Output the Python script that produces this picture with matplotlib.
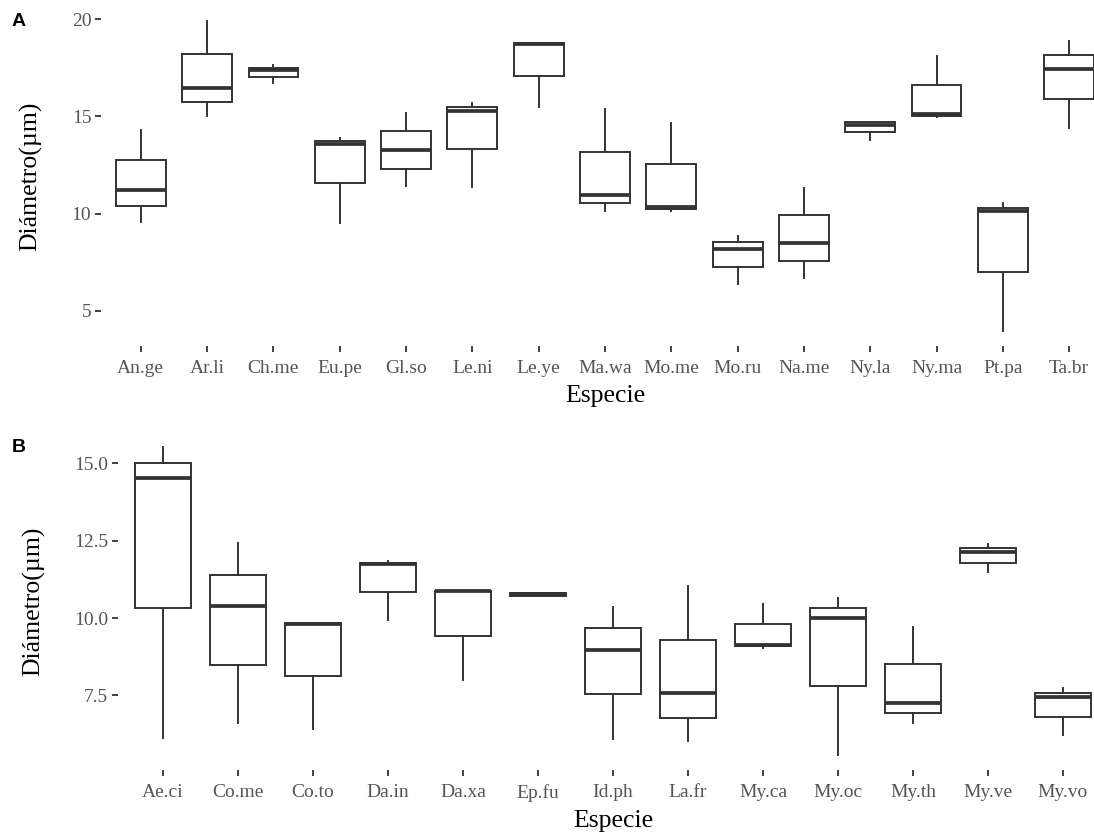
import matplotlib
matplotlib.use("Agg")
import matplotlib.pyplot as plt

plt.rcParams['font.family'] = ['Liberation Serif', 'DejaVu Serif']

# Panel A
species_a = ["An.ge", "Ar.li", "Ch.me", "Eu.pe", "Gl.so", "Le.ni", "Le.ye", "Ma.wa",
             "Mo.me", "Mo.ru", "Na.me", "Ny.la", "Ny.ma", "Pt.pa", "Ta.br"]
whislo_a = [9.57, 15.02, 16.74, 9.52, 11.41, 11.37, 15.50, 10.14, 10.14, 6.39, 6.68, 13.81, 14.98, 3.99, 14.38]
q1_a = [10.38, 15.72, 17.00, 11.58, 12.29, 13.32, 17.08, 10.55, 10.22, 7.25, 7.56, 14.21, 15.03, 6.99, 15.89]
med_a = [11.24, 16.44, 17.39, 13.60, 13.26, 15.29, 18.70, 10.98, 10.34, 8.20, 8.50, 14.55, 15.10, 10.14, 17.44]
q3_a = [12.78, 18.20, 17.50, 13.75, 14.24, 15.50, 18.76, 13.18, 12.53, 8.54, 9.91, 14.72, 16.62, 10.31, 18.16]
whishi_a = [14.30, 19.88, 17.65, 13.87, 15.19, 15.67, 18.76, 15.36, 14.64, 8.87, 11.32, 14.72, 18.11, 10.55, 18.88]
yticks_a = [5, 10, 15, 20]

# Panel B
species_b = ["Ae.ci", "Co.me", "Co.to", "Da.in", "Da.xa", "Ep.fu", "Id.ph", "La.fr",
             "My.ca", "My.oc", "My.th", "My.ve", "My.vo"]
whislo_b = [6.13, 6.62, 6.42, 9.95, 8.01, 10.70, 6.10, 6.02, 9.03, 5.59, 6.62, 11.50, 6.24]
q1_b = [10.32, 8.47, 8.12, 10.84, 9.43, 10.72, 7.55, 6.78, 9.09, 7.80, 6.94, 11.79, 6.81]
med_b = [14.51, 10.38, 9.82, 11.75, 10.86, 10.77, 8.98, 7.58, 9.14, 10.00, 7.26, 12.12, 7.44]
q3_b = [15.02, 11.40, 9.84, 11.79, 10.88, 10.80, 9.67, 9.30, 9.82, 10.32, 8.50, 12.26, 7.58]
whishi_b = [15.51, 12.42, 9.84, 11.83, 10.88, 10.82, 10.35, 11.04, 10.46, 10.64, 9.71, 12.40, 7.74]
yticks_b = [7.5, 10.0, 12.5, 15.0]

W, H = 1094, 832
fig = plt.figure(figsize=(W / 100, H / 100), dpi=100)

line_col = '#333333'


def panel(rect, names, lo, q1, med, q3, hi, yticks, fmt):
    ax = fig.add_axes(rect)
    stats = [dict(whislo=a, q1=b, med=c, q3=d, whishi=e, fliers=[])
             for a, b, c, d, e in zip(lo, q1, med, q3, hi)]
    pos = list(range(1, len(names) + 1))
    ax.bxp(stats, positions=pos, widths=0.75, showcaps=False, showfliers=False,
           patch_artist=True,
           boxprops=dict(facecolor='white', edgecolor=line_col, linewidth=1.4),
           whiskerprops=dict(color=line_col, linewidth=1.4),
           medianprops=dict(color=line_col, linewidth=2.7, solid_capstyle='butt'))
    rng = max(hi) - min(lo)
    ax.set_ylim(min(lo) - 0.05 * rng, max(hi) + 0.05 * rng)
    ax.set_xlim(0.4, len(names) + 0.6)
    ax.set_xticks(pos)
    ax.set_xticklabels(names)
    ax.set_yticks(yticks)
    ax.set_yticklabels([fmt.format(v) for v in yticks])
    for s in ax.spines.values():
        s.set_visible(False)
    ax.tick_params(length=4, width=1.3, color=line_col, labelcolor='#555555',
                   labelsize=14)
    ax.tick_params(axis='x', pad=6)
    ax.tick_params(axis='y', pad=3)
    ax.set_xlabel('Especie', fontsize=18.5, labelpad=6)
    ax.set_ylabel('Diámetro(µm)', fontsize=18.5, labelpad=21)
    return ax


panel([101 / W, 1 - 346 / H, 1008 / W, 340 / H], species_a,
      whislo_a, q1_a, med_a, q3_a, whishi_a, yticks_a, '{:g}')
panel([118 / W, 1 - 770 / H, 990 / W, 338 / H], species_b,
      whislo_b, q1_b, med_b, q3_b, whishi_b, yticks_b, '{:.1f}')

fig.text(12 / W, 1 - 22 / H, 'A', fontsize=14, fontweight='bold',
         family='Liberation Sans', va='center')
fig.text(12 / W, 1 - 447 / H, 'B', fontsize=14, fontweight='bold',
         family='Liberation Sans', va='center')

fig.savefig('out.png', dpi=100)
